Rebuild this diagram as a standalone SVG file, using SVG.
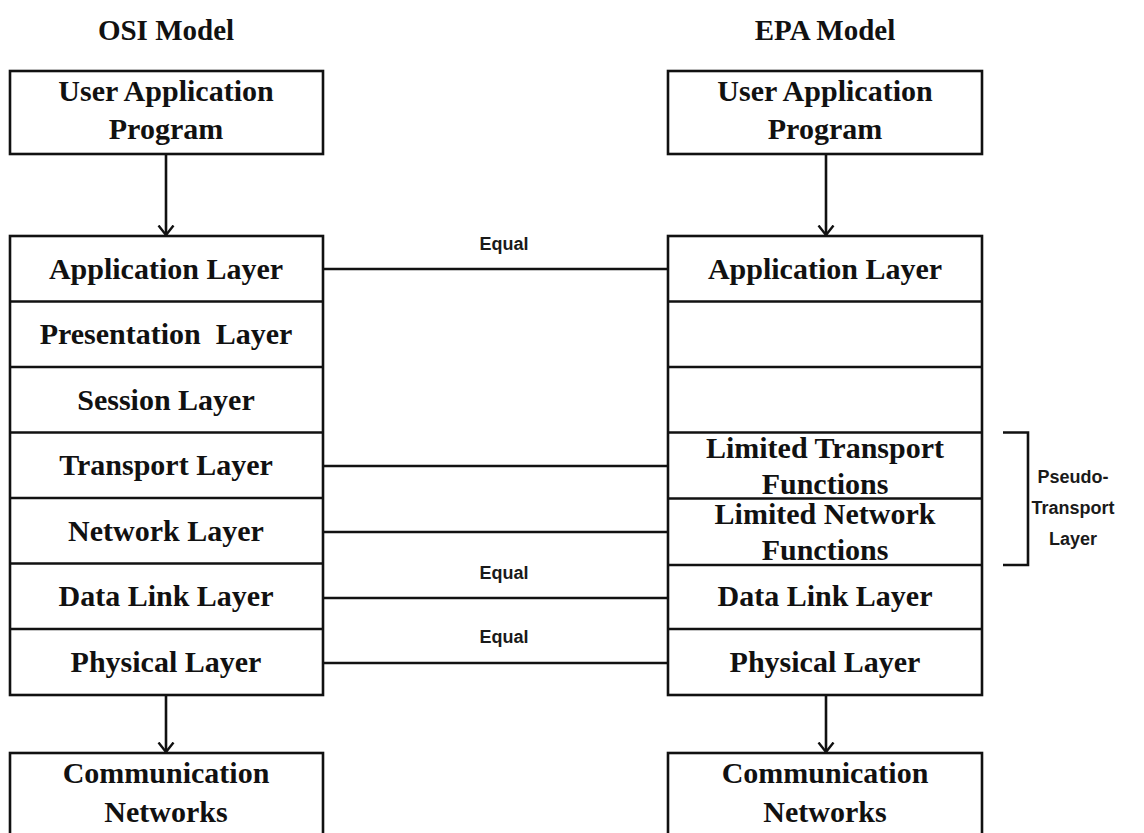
<svg xmlns="http://www.w3.org/2000/svg" width="1144" height="833" viewBox="0 0 1144 833">
  <style>
    .box { fill: #ffffff; stroke: #111111; stroke-width: 2.6; }
    .sep { stroke: #111111; stroke-width: 2.6; }
    .lbl { font-family: "Liberation Serif", "Times New Roman", serif; font-weight: bold; font-size: 30px; fill: #111111; text-anchor: middle; }
    .ttl { font-family: "Liberation Serif", "Times New Roman", serif; font-weight: bold; font-size: 29px; fill: #111111; text-anchor: middle; }
    .note { font-family: "Liberation Sans", Arial, sans-serif; font-size: 18px; font-weight: 600; fill: #1a1a1a; text-anchor: middle; }
    .link { stroke: #111111; stroke-width: 2.6; fill: none; }
  </style>
  <defs>
    <!-- open chevron arrowhead, tip on the line end -->
    <marker id="chev" viewBox="0 0 12 18" refX="10.5" refY="9" markerWidth="12" markerHeight="18" markerUnits="userSpaceOnUse" orient="auto">
      <path d="M1,1.5 L10.5,9 L1,16.5" fill="none" stroke="#111111" stroke-width="2.4"/>
    </marker>
  </defs>

  <rect width="1144" height="833" fill="#ffffff"/>

  <!-- column titles -->
  <text class="ttl" x="166" y="40">OSI Model</text>
  <text class="ttl" x="825" y="40">EPA Model</text>

  <!-- OSI column -->
  <g id="osi-user-app">
    <rect class="box" x="10" y="71" width="313" height="83"/>
    <text class="lbl" x="166" y="101">User Application</text>
    <text class="lbl" x="166" y="139">Program</text>
  </g>
  <g id="osi-stack">
    <rect class="box" x="10" y="236" width="313" height="459"/>
    <line class="sep" x1="10" y1="301.5" x2="323" y2="301.5"/>
    <line class="sep" x1="10" y1="367" x2="323" y2="367"/>
    <line class="sep" x1="10" y1="432.5" x2="323" y2="432.5"/>
    <line class="sep" x1="10" y1="498" x2="323" y2="498"/>
    <line class="sep" x1="10" y1="563.5" x2="323" y2="563.5"/>
    <line class="sep" x1="10" y1="629" x2="323" y2="629"/>
    <text class="lbl" x="166" y="279">Application Layer</text>
    <text class="lbl" x="166" y="344" xml:space="preserve">Presentation  Layer</text>
    <text class="lbl" x="166" y="410">Session Layer</text>
    <text class="lbl" x="166" y="475">Transport Layer</text>
    <text class="lbl" x="166" y="541">Network Layer</text>
    <text class="lbl" x="166" y="606">Data Link Layer</text>
    <text class="lbl" x="166" y="672">Physical Layer</text>
  </g>
  <g id="osi-comm">
    <rect class="box" x="10" y="753" width="313" height="100"/>
    <text class="lbl" x="166" y="783">Communication</text>
    <text class="lbl" x="166" y="822">Networks</text>
  </g>

  <!-- EPA column -->
  <g id="epa-user-app">
    <rect class="box" x="668" y="71" width="314" height="83"/>
    <text class="lbl" x="825" y="101">User Application</text>
    <text class="lbl" x="825" y="139">Program</text>
  </g>
  <g id="epa-stack">
    <rect class="box" x="668" y="236" width="314" height="459"/>
    <line class="sep" x1="668" y1="301.5" x2="982" y2="301.5"/>
    <line class="sep" x1="668" y1="367" x2="982" y2="367"/>
    <text class="lbl" x="825" y="279">Application Layer</text>
    <text class="lbl" x="825" y="458">Limited Transport</text>
    <text class="lbl" x="825" y="494">Functions</text>
    <text class="lbl" x="825" y="524">Limited Network</text>
    <text class="lbl" x="825" y="560">Functions</text>
    <line class="sep" x1="668" y1="432.5" x2="982" y2="432.5"/>
    <line class="sep" x1="668" y1="498.5" x2="982" y2="498.5"/>
    <line class="sep" x1="668" y1="565" x2="982" y2="565"/>
    <line class="sep" x1="668" y1="629" x2="982" y2="629"/>
    <text class="lbl" x="825" y="606">Data Link Layer</text>
    <text class="lbl" x="825" y="672">Physical Layer</text>
  </g>
  <g id="epa-comm">
    <rect class="box" x="668" y="753" width="314" height="100"/>
    <text class="lbl" x="825" y="783">Communication</text>
    <text class="lbl" x="825" y="822">Networks</text>
  </g>

  <!-- pseudo-transport bracket -->
  <g id="pseudo-transport">
    <path class="link" d="M1003,432.5 H1028 V565 H1003"/>
    <text class="note" x="1073" y="483" font-size="17">Pseudo-</text>
    <text class="note" x="1073" y="514" font-size="17">Transport</text>
    <text class="note" x="1073" y="545" font-size="17">Layer</text>
  </g>

  <!-- connectors -->
  <g id="connectors">
    <line class="link" x1="166" y1="154" x2="166" y2="235" marker-end="url(#chev)"/>
    <line class="link" x1="826" y1="154" x2="826" y2="235" marker-end="url(#chev)"/>
    <line class="link" x1="166" y1="695" x2="166" y2="752" marker-end="url(#chev)"/>
    <line class="link" x1="826" y1="695" x2="826" y2="752" marker-end="url(#chev)"/>

    <line class="link" x1="323" y1="269" x2="668" y2="269"/>
    <line class="link" x1="323" y1="466" x2="668" y2="466"/>
    <line class="link" x1="323" y1="532" x2="668" y2="532"/>
    <line class="link" x1="323" y1="598" x2="480" y2="598" stroke-width="3.2"/>
    <line class="link" x1="480" y1="598" x2="668" y2="598"/>
    <line class="link" x1="323" y1="663" x2="668" y2="663"/>

    <text class="note" x="504" y="250">Equal</text>
    <text class="note" x="504" y="579">Equal</text>
    <text class="note" x="504" y="643">Equal</text>
  </g>
</svg>
